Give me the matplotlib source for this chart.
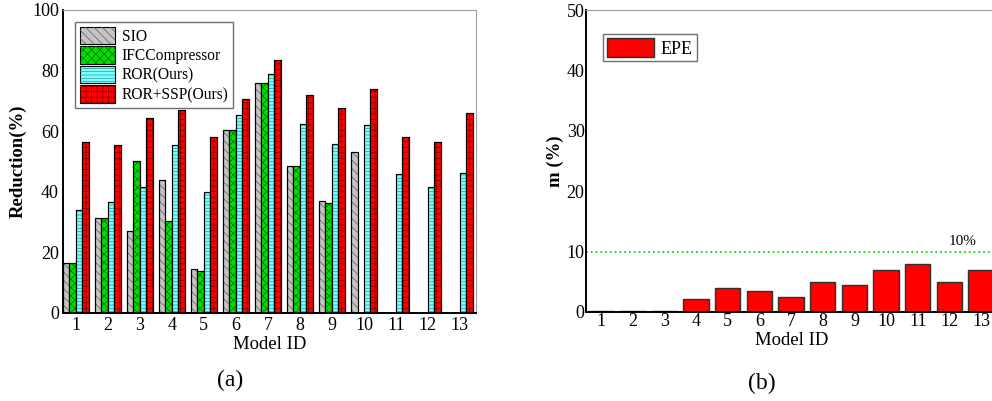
import numpy as np
import matplotlib
matplotlib.use("Agg")
import matplotlib.pyplot as plt
from matplotlib.patches import Patch

plt.rcParams['font.family'] = ['Liberation Serif', 'DejaVu Serif']
plt.rcParams['hatch.linewidth'] = 0.5

model_ids = np.arange(1, 14)
sio = [16.5, 31.5, 27, 44, 14.5, 60.5, 76, 48.5, 37, 53, 0, 0, 0]
ifc = [16.5, 31.5, 50, 30.5, 14, 60.5, 76, 48.5, 36.2, 0, 0, 0, 0]
ror = [34, 36.5, 41.5, 55.5, 40, 65.5, 79, 62.5, 55.7, 62, 46, 41.6, 46.1]
ror_ssp = [56.5, 55.5, 64.5, 67, 58, 70.5, 83.5, 72, 67.7, 74, 58.2, 56.4, 65.9]
epe = [0.1, 0.1, 0.1, 2.1, 4.0, 3.5, 2.5, 5.0, 4.5, 7.0, 8.0, 5.0, 7.0]

series = [
    ("SIO", sio, "#c4c4c4", "#5a5a5a", "\\\\\\\\"),
    ("IFCCompressor", ifc, "#00dd00", "#006600", "xxxx"),
    ("ROR(Ours)", ror, "#80ffff", "#1c9c9c", "-----"),
    ("ROR+SSP(Ours)", ror_ssp, "#ff0000", "#700000", "+++"),
]

fig = plt.figure(figsize=(9.92, 4.01), dpi=100)

# (a) reduction per model
ax1 = fig.add_axes([0.0635, 0.2195, 0.4163, 0.7556])
bw = 0.2
handles = []
for i, (name, vals, fc, hc, hatch) in enumerate(series):
    x = model_ids - 0.3 + i * bw
    ax1.bar(x, vals, bw, color=fc, edgecolor="black", linewidth=0.8)
    ax1.bar(x, vals, bw, color="none", edgecolor=hc, hatch=hatch, linewidth=0)
    ax1.bar(x, vals, bw, color="none", edgecolor="black", linewidth=0.8)
    handles.append((Patch(facecolor=fc, edgecolor="black", linewidth=0.8),
                    Patch(facecolor="none", edgecolor=hc, hatch=hatch, linewidth=0)))
ax1.set_xlim(0.6, 13.5)
ax1.set_ylim(0, 100)
ax1.set_xticks(model_ids)
ax1.set_yticks([0, 20, 40, 60, 80, 100])
ax1.tick_params(length=0, labelsize=13, pad=3)
ax1.set_xlabel("Model ID", fontsize=13.5, labelpad=1)
ax1.set_ylabel("Reduction(%)", fontsize=13.5, labelpad=4, fontweight="bold")
for s in ["top", "right"]:
    ax1.spines[s].set_color("#a0a0a0")
    ax1.spines[s].set_linewidth(0.8)
ax1.spines["left"].set_linewidth(1.4)
ax1.spines["bottom"].set_linewidth(1.4)
ax1.legend(handles, [s[0] for s in series], loc="upper left",
           bbox_to_anchor=(0.01, 0.985), fontsize=11.2, fancybox=False,
           edgecolor="#707070", framealpha=1, handlelength=2.3,
           handleheight=1.35, labelspacing=0.1, borderpad=0.3,
           handletextpad=0.4)

# (b) EPE
ax2 = fig.add_axes([0.5907, 0.222, 0.4143, 0.753])
ax2.bar(model_ids, epe, 0.8, color="#ff0000", edgecolor="#303030",
        linewidth=1.0, label="EPE")
ax2.axhline(10, color="#00dd00", linestyle=":", linewidth=1.3)
ax2.text(12.4, 10.6, "10%", fontsize=11, ha="center", va="bottom")
ax2.set_xlim(0.52, 13.5)
ax2.set_ylim(0, 50)
ax2.set_xticks(model_ids)
ax2.set_yticks([0, 10, 20, 30, 40, 50])
ax2.tick_params(length=0, labelsize=13, pad=1)
ax2.set_xlabel("Model ID", fontsize=13.5, labelpad=1)
ax2.set_ylabel("m (%)", fontsize=13.5, labelpad=2, fontweight="bold")
for s in ["top", "right"]:
    ax2.spines[s].set_color("#a0a0a0")
    ax2.spines[s].set_linewidth(0.8)
ax2.spines["left"].set_linewidth(1.4)
ax2.spines["bottom"].set_linewidth(1.4)
ax2.legend(loc="upper left", bbox_to_anchor=(0.02, 0.95), fontsize=13,
           fancybox=False, edgecolor="#707070", framealpha=1,
           handlelength=2.6, handleheight=1.3, borderpad=0.2,
           handletextpad=0.4)

fig.text(0.232, 0.052, "(a)", fontsize=17, ha="center", va="center")
fig.text(0.768, 0.045, "(b)", fontsize=17, ha="center", va="center")

fig.savefig("out.png", dpi=100)
